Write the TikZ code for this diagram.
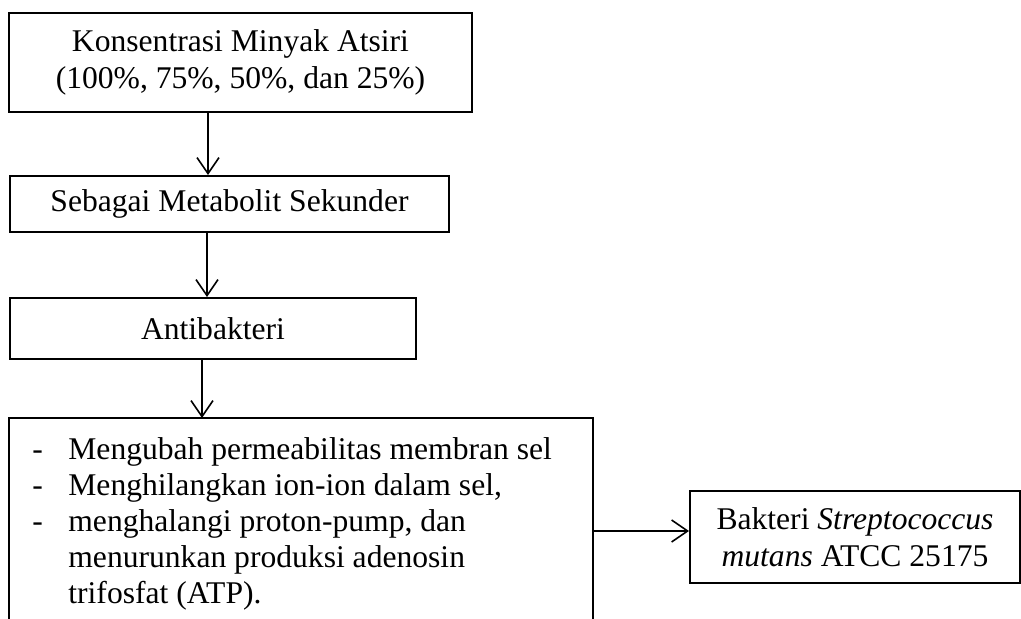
\documentclass[tikz,border=0pt]{standalone}
\usepackage{fontspec}
\setmainfont{Liberation Serif}
\usetikzlibrary{arrows.meta}
\begin{document}
\begin{tikzpicture}[x=0.5pt,y=-0.5pt,
    kotak/.style={draw,line width=1pt,inner sep=0pt,align=center,font=\fontsize{15.8}{18.5}\selectfont},
    panah/.style={line width=0.8pt,-{Straight Barb[length=8pt,width=11pt,line width=0.8pt]}}]
    \useasboundingbox (0,0) rectangle (1021,619);
    \node[kotak,minimum width=231.5pt,minimum height=49.5pt] (konsentrasi) at (240.5,62.5) {Konsentrasi Minyak Atsiri\\(100\%, 75\%, 50\%, dan 25\%)};
    \node[kotak,minimum width=219.5pt,minimum height=28pt] (metabolit) at (229.5,204) {Sebagai Metabolit Sekunder};
    \node[kotak,minimum width=203pt,minimum height=30.5pt] (antibakteri) at (213,328.5) {Antibakteri};
    \node[kotak,draw=none,minimum width=291pt,minimum height=100pt] (mekanisme) at (301,519) {};
    \draw[line width=1pt] (mekanisme.south west) |- (mekanisme.north) -| (mekanisme.south east);
    \node[font=\fontsize{15.8}{18}\selectfont,align=left,anchor=north west,inner sep=0pt] (isi) at (32,437) {\makebox[18pt][l]{-}Mengubah permeabilitas membran sel\\
        \makebox[18pt][l]{-}Menghilangkan ion-ion dalam sel,\\
        \makebox[18pt][l]{-}menghalangi proton-pump, dan\\
        \hspace*{18pt}menurunkan produksi adenosin\\
        \hspace*{18pt}trifosfat (ATP).};
    \node[kotak,minimum width=165pt,minimum height=46pt] (bakteri) at (855,537) {Bakteri \textit{Streptococcus}\\\textit{mutans} ATCC 25175};
    % panah
    \coordinate (p1) at (208,0);
    \coordinate (p2) at (207,0);
    \coordinate (p3) at (202,0);
    \draw[panah] (konsentrasi.south -| p1) -- (metabolit.north -| p1);
    \draw[panah] (metabolit.south -| p2) -- (antibakteri.north -| p2);
    \draw[panah] (antibakteri.south -| p3) -- (mekanisme.north -| p3);
    \draw[panah] ([yshift=3pt]mekanisme.east |- bakteri.west) -- ([yshift=3pt]bakteri.west);
\end{tikzpicture}
\end{document}
